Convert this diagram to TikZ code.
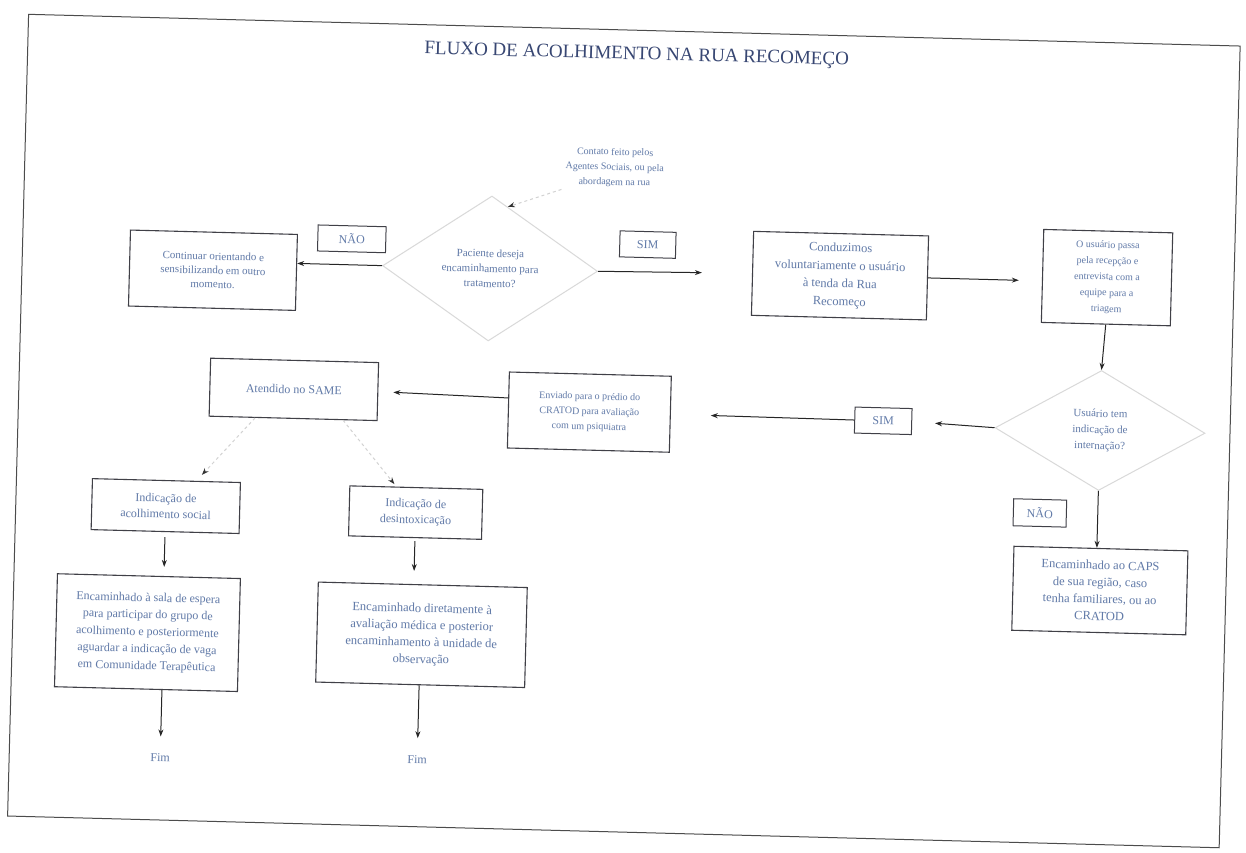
\documentclass[tikz,border=0pt]{standalone}
\usepackage{fontspec}
\setmainfont{Liberation Serif}
\usetikzlibrary{shapes.geometric,arrows.meta,calc}
\definecolor{txt}{rgb}{0.38,0.48,0.66}
\definecolor{ttl}{rgb}{0.22,0.28,0.45}
\definecolor{edgec}{rgb}{0.25,0.25,0.28}
\begin{document}
\begin{tikzpicture}[x=1pt,y=-1pt,
  box/.style={draw=edgec, line width=1.1pt, align=center, text=txt, inner sep=2pt},
  lbl/.style={draw=edgec, line width=1pt, text=txt, font=\fontsize{12}{14}\selectfont, inner sep=1pt},
  dec/.style={draw=gray!30, line width=1pt, shape=diamond, aspect=1.5, align=center, text=txt, inner sep=0pt},
  conn/.style={draw=black!85, line width=1pt, -{Stealth[length=7pt,width=5pt]}},
  faint/.style={draw=gray!35, line width=1pt, dashed, -{Stealth[length=7pt,width=5pt,color=black!80]}},
  endtxt/.style={text=txt, font=\fontsize{12}{14}\selectfont},
]
\useasboundingbox (0,0) rectangle (1246,852);
\fill[white] (0,0) rectangle (1246,852);
\begin{scope}[rotate around={-1.5:(623,426)}, transform shape]
\draw[black!70, line width=1pt] (18,30) rectangle (1230,832);

\node[font=\fontsize{19}{22}\selectfont, text=ttl] (title) at (627,55) {FLUXO DE ACOLHIMENTO NA RUA RECOMEÇO};

\node[text=txt, align=center, font=\fontsize{10}{15}\selectfont] (top) at (608,168) {Contato feito pelos\\Agentes Sociais, ou pela\\abordagem na rua};

\node[dec, minimum width=215pt, minimum height=145pt, font=\fontsize{11}{15}\selectfont] (d1) at (486,272) {Paciente deseja\\encaminhamento para\\tratamento?};

\node[box, minimum width=167pt, minimum height=76pt, font=\fontsize{11}{14}\selectfont] (cont) at (209,281) {Continuar orientando e\\sensibilizando em outro\\momento.};

\node[lbl, minimum width=68pt, minimum height=26pt] (nao1) at (347,246) {NÃO};
\node[lbl, minimum width=56pt, minimum height=26pt] (sim1) at (643,244) {SIM};

\node[box, minimum width=175pt, minimum height=84pt, font=\fontsize{12.5}{18}\selectfont] (cond) at (836,270) {Conduzimos\\voluntariamente o usuário\\à tenda da Rua\\Recomeço};

\node[box, minimum width=129pt, minimum height=93pt, font=\fontsize{10}{16}\selectfont] (tri) at (1103,265) {O usuário passa\\pela recepção e\\entrevista com a\\equipe para a\\triagem};

\node[dec, minimum width=210pt, minimum height=120pt, font=\fontsize{11}{16}\selectfont] (d2) at (1100,418) {Usuário tem\\indicação de\\internação?};

\node[lbl, minimum width=57pt, minimum height=26pt] (sim2) at (883,414) {SIM};
\node[lbl, minimum width=53pt, minimum height=27pt] (nao2) at (1042,502) {NÃO};

\node[box, minimum width=162pt, minimum height=76pt, font=\fontsize{10}{15}\selectfont] (env) at (589,413) {Enviado para o prédio do\\CRATOD para avaliação\\com um psiquiatra};

\node[box, minimum width=168pt, minimum height=58pt, font=\fontsize{12}{15}\selectfont] (aten) at (293,398) {Atendido no SAME};

\node[box, minimum width=148pt, minimum height=51pt, font=\fontsize{12}{16}\selectfont] (indsoc) at (168,518) {Indicação de\\acolhimento social};
\node[box, minimum width=133pt, minimum height=50pt, font=\fontsize{12}{16}\selectfont] (inddes) at (418,518) {Indicação de\\desintoxicação};

\node[box, minimum width=183pt, minimum height=113pt, font=\fontsize{12}{17}\selectfont] (encsoc) at (153,645) {Encaminhado à sala de espera\\para participar do grupo de\\acolhimento e posteriormente\\aguardar a indicação de vaga\\em Comunidade Terapêutica};

\node[box, minimum width=209pt, minimum height=100pt, font=\fontsize{12.5}{17}\selectfont] (encdes) at (427,640) {Encaminhado diretamente à\\avaliação médica e posterior\\encaminhamento à unidade de\\observação};

\node[box, minimum width=174pt, minimum height=84pt, font=\fontsize{12.5}{17}\selectfont] (caps) at (1104,578) {Encaminhado ao CAPS\\de sua região, caso\\tenha familiares, ou ao\\CRATOD};

\node[endtxt] (fim1) at (169,770) {Fim};
\node[endtxt] (fim2) at (426,765) {Fim};

% connectors
\draw[faint] (top.south west) -- ($(d1.north)!0.15!(d1.east)$);
\draw[conn] (d1.west) -- (d1.west -| cont.east);
\draw[conn, shorten >=50pt] (d1.east) -- (cond.west);
\draw[conn, shorten >=23pt] (cond.east) -- (cond.east -| tri.west);
\draw[conn] (tri.south) -- (d2.north);
\draw[conn, shorten >=23pt] (d2.west) -- (sim2.east);
\draw[conn, shorten >=40pt] (sim2.west) -- (env.east);
\draw[conn, shorten >=15pt] ([yshift=12pt]env.west) -- (aten.east);
\draw[faint, shorten >=8pt] ([xshift=-38pt]aten.south) -- ([xshift=30pt]indsoc.north);
\draw[faint, shorten >=3pt] ([xshift=50pt]aten.south) -- ([xshift=-20pt]inddes.north);
\draw[conn, shorten <=5pt, shorten >=9pt] (indsoc.south) -- (indsoc.south |- encsoc.north);
\draw[conn, shorten <=3pt, shorten >=13pt] (inddes.south) -- (inddes.south |- encdes.north);
\draw[conn, shorten >=14pt] (fim1.north |- encsoc.south) -- (fim1.north);
\draw[conn, shorten >=14pt] (fim2.north |- encdes.south) -- (fim2.north);
\draw[conn] (d2.south) -- (d2.south |- caps.north);
\end{scope}
\end{tikzpicture}
\end{document}
